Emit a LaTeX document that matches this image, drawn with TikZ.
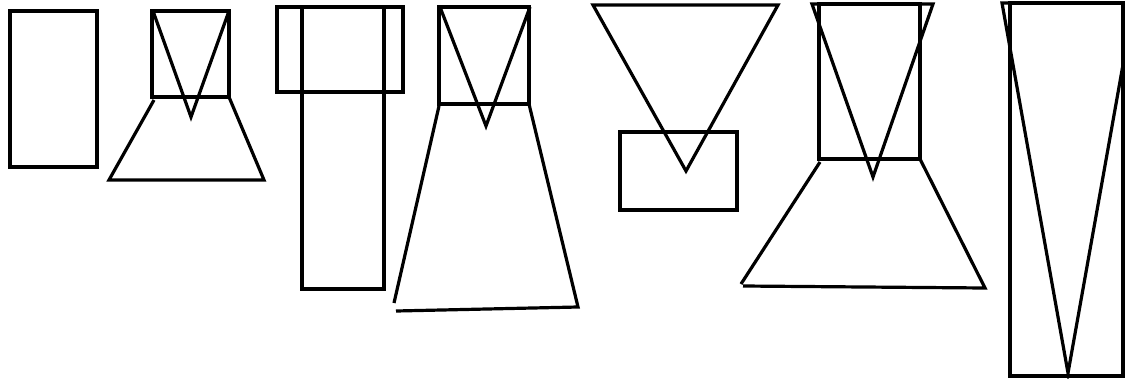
\documentclass[tikz,border=0pt]{standalone}
\begin{document}
\begin{tikzpicture}[x=1pt,y=-1pt,
  stroke/.style={draw=black,line width=3.2pt,line join=miter}]
\useasboundingbox (0,0) rectangle (1125,378);
\fill[white] (0,0) rectangle (1125,378);
\begin{scope}
\clip (0,0) rectangle (1125,378);
% shape 1
\draw[stroke] (10,11) rectangle (97,167);
% shape 2
\draw[stroke] (152,11) rectangle (229,97);
\draw[stroke] (153,11) -- (191,117) -- (229,11);
\draw[stroke] (154,100) -- (109,180) -- (264,180) -- (229,97);
% shape 3
\draw[stroke] (277,7) rectangle (403,92);
\draw[stroke] (302,7) rectangle (384,289);
% shape 4
\draw[stroke] (439,7) rectangle (529,104);
\draw[stroke] (440,7) -- (486,126) -- (530,7);
\draw[stroke] (439,106) -- (394,303);
\draw[stroke] (529,104) -- (578,307) -- (396,311);
% shape 5
\draw[stroke] (593,5) -- (778,5) -- (686,171) -- cycle;
\draw[stroke] (620,132) rectangle (737,210);
% shape 6
\draw[stroke] (819,4) rectangle (920,159);
\draw[stroke] (812,4) -- (933,4) -- (873,177) -- cycle;
\draw[stroke] (820,162) -- (741,284);
\draw[stroke] (920,159) -- (985,288) -- (743,286);
% shape 7
\draw[stroke] (1010,3) rectangle (1123,376);
\draw[stroke] (1002,3) -- (1134,3) -- (1068,373) -- cycle;
\end{scope}
\end{tikzpicture}
\end{document}
